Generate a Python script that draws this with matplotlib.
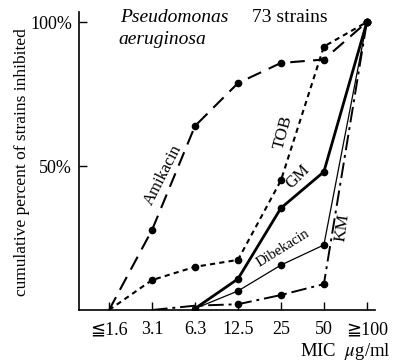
import numpy as np
import matplotlib
matplotlib.use("Agg")
import matplotlib.pyplot as plt

nan = np.nan

# MIC categories (ug/ml) and cumulative % of strains inhibited
mic_labels = ["≦1.6", "3.1", "6.3", "12.5", "25", "50", "≧100"]
amikacin = [0, 27.8, 63.9, 78.8, 85.8, 87.0, 100]
tob = [0, 10.4, 15.0, 17.4, 45.0, 91.5, 100]
gm = [nan, nan, 0.5, 10.8, 35.4, 48.0, 100]
dibekacin = [nan, nan, 0.5, 6.6, 15.6, 22.6, 100]
km = [nan, 0, 1.5, 2.0, 5.2, 9.0, 100]

plt.rcParams['font.family'] = ['Liberation Serif', 'DejaVu Serif', 'DejaVu Sans']
plt.rcParams['mathtext.fontset'] = 'stix'

W, H = 393, 364
fig = plt.figure(figsize=(W / 100, H / 100), dpi=100)
ax = fig.add_axes([79 / W, 1 - 310 / H, (375 - 79) / W, (310 - 12) / H])

x = np.arange(len(mic_labels))
mk = dict(marker="o", markersize=4.5, color="black")

ax.plot(x, amikacin, linestyle=(0, (7, 4)), linewidth=1.5, markevery=list(range(1, 7)), **mk)
ax.plot(x, tob, linestyle=(0, (2.5, 2)), linewidth=1.5, markevery=list(range(1, 7)), **mk)
ax.plot(x, gm, linestyle="-", linewidth=2.0, markevery=list(range(2, 7)), **mk)
ax.plot(x, dibekacin, linestyle="-", linewidth=0.9, markevery=list(range(3, 7)), **mk)
ax.plot(x, km, linestyle=(0, (8, 2.5, 1.5, 2.5)), linewidth=1.4, markevery=list(range(3, 7)), **mk)

ax.set_xlim(-0.70, 6.19)
ax.set_ylim(0, 103.5)
for s in ["top", "right"]:
    ax.spines[s].set_visible(False)
for s in ["left", "bottom"]:
    ax.spines[s].set_linewidth(1.2)

ax.set_xticks(x)
ax.set_xticklabels(mic_labels, fontsize=13)
ax.set_yticks([50, 100])
ax.set_yticklabels(["50%", "100%"], fontsize=13)
ax.tick_params(axis="both", direction="in", length=6, width=1.0)
ax.tick_params(axis="x", pad=8)
ax.tick_params(axis="y", pad=5)

# curve labels
ax.text(1.26, 46.9, "Amikacin", rotation=63, fontsize=12, ha="center", va="center")
ax.text(4.05, 61.8, "TOB", rotation=75, fontsize=12.5, ha="center", va="center")
ax.text(4.40, 46.2, "GM", rotation=45, fontsize=12, ha="center", va="center")
ax.text(4.05, 21.5, "Dibekacin", rotation=32, fontsize=10.5, ha="center", va="center")
ax.text(5.44, 28.5, "KM", rotation=82, fontsize=12.5, ha="center", va="center")

fig.text(120 / W, 1 - 18 / H, "Pseudomonas", style="italic", fontsize=14, va="center")
fig.text(118 / W, 1 - 39 / H, "aeruginosa", style="italic", fontsize=14, va="center")
fig.text(252 / W, 1 - 18 / H, "73 strains", fontsize=14, va="center")
fig.text(22 / W, 1 - 162 / H, "cumulative percent of strains inhibited",
         rotation=90, fontsize=12.5, ha="center", va="center")
fig.text(391 / W, 1 - 352 / H, r"MIC  $\mu$g/ml", fontsize=13.5, ha="right", va="center")

fig.savefig("out.png", dpi=100)
